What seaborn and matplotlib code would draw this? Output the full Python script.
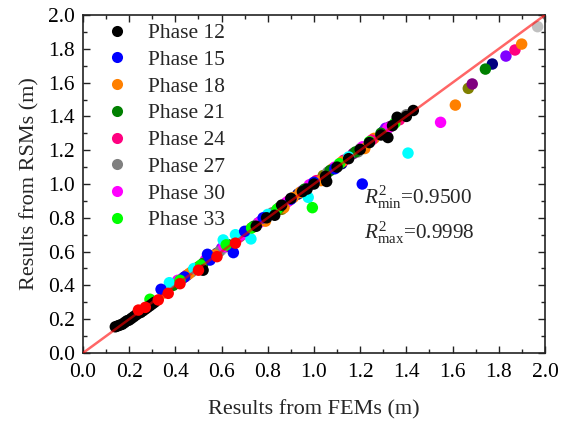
import matplotlib
matplotlib.use("Agg")
import matplotlib.pyplot as plt
from matplotlib.lines import Line2D
from matplotlib.ticker import MultipleLocator
import seaborn as sns
import pandas as pd

# ---- data: FEM results (x) vs RSM predictions (y), one list pair per phase ----
phase12_fem = [0.14, 0.15, 0.16, 0.17, 0.18, 0.19, 0.20, 0.21, 0.22, 0.23, 0.24, 0.25, 0.26,
               0.27, 0.28, 0.29, 0.30, 0.31, 0.52, 0.75, 0.795, 0.83, 0.86, 0.90, 0.95, 0.97,
               1.00, 1.05, 1.055, 1.10, 1.15, 1.20, 1.24, 1.29, 1.32, 1.34, 1.36, 1.40, 1.43]
phase12_rsm = [0.155, 0.16, 0.165, 0.17, 0.18, 0.19, 0.195, 0.205, 0.215, 0.225, 0.235, 0.24, 0.25,
               0.26, 0.27, 0.28, 0.29, 0.30, 0.49, 0.75, 0.80, 0.815, 0.875, 0.915, 0.955, 0.97,
               1.00, 1.045, 1.015, 1.10, 1.15, 1.205, 1.245, 1.29, 1.275, 1.345, 1.395, 1.40, 1.435]

phase13_fem = [0.24, 0.27, 0.326, 0.369, 0.42, 0.50, 0.58, 0.66]
phase13_rsm = [0.254, 0.27, 0.314, 0.353, 0.41, 0.49, 0.57, 0.65]

phase14_fem = [0.374, 0.48, 0.607, 0.66, 0.727, 0.80, 0.975, 1.15, 1.407]
phase14_rsm = [0.416, 0.50, 0.669, 0.70, 0.675, 0.82, 0.921, 1.16, 1.183]

phase15_fem = [0.338, 0.44, 0.539, 0.55, 0.651, 0.70, 0.78, 0.90, 1.00, 1.09, 1.209]
phase15_rsm = [0.377, 0.45, 0.584, 0.55, 0.594, 0.72, 0.80, 0.91, 1.01, 1.09, 1.000]

phase16_fem = [0.40, 0.58, 0.76, 0.93, 1.12, 1.30, 1.772]
phase16_rsm = [0.41, 0.59, 0.77, 0.94, 1.12, 1.31, 1.710]

phase17_fem = [0.45, 0.62, 0.81, 0.99, 1.17, 1.33, 1.685]
phase17_rsm = [0.46, 0.63, 0.82, 1.00, 1.18, 1.34, 1.592]

phase18_fem = [0.35, 0.46, 0.57, 0.64, 0.71, 0.79, 0.87, 0.94, 1.03, 1.12, 1.22, 1.899]
phase18_rsm = [0.355, 0.47, 0.58, 0.63, 0.72, 0.78, 0.86, 0.95, 1.02, 1.13, 1.21, 1.828]

phase19_fem = [0.50, 0.68, 0.86, 1.04, 1.21, 1.668]
phase19_rsm = [0.51, 0.69, 0.85, 1.05, 1.21, 1.566]

phase20_fem = [0.43, 0.60, 0.77, 0.95, 1.13, 1.31, 1.831]
phase20_rsm = [0.44, 0.62, 0.78, 0.96, 1.14, 1.33, 1.757]

phase21_fem = [0.39, 0.52, 0.63, 0.74, 0.85, 0.96, 1.07, 1.18, 1.29, 1.742]
phase21_rsm = [0.40, 0.53, 0.64, 0.75, 0.86, 0.97, 1.08, 1.19, 1.30, 1.680]

phase22_fem = [0.56, 0.73, 0.91, 1.08, 1.26, 1.612]
phase22_rsm = [0.57, 0.74, 0.92, 1.09, 1.27, 1.467]

phase24_fem = [0.44, 0.56, 0.67, 0.78, 0.89, 1.01, 1.13, 1.25, 1.37, 1.870]
phase24_rsm = [0.45, 0.57, 0.68, 0.79, 0.90, 1.02, 1.14, 1.26, 1.38, 1.793]

phase27_fem = [0.47, 0.59, 0.70, 0.82, 0.94, 1.06, 1.19, 1.31, 1.40, 2.01]
phase27_rsm = [0.48, 0.60, 0.71, 0.83, 0.95, 1.07, 1.19, 1.31, 1.41, 2.00]

phase30_fem = [0.41, 0.53, 0.61, 0.69, 0.76, 0.88, 0.98, 1.09, 1.21, 1.32, 1.548]
phase30_rsm = [0.43, 0.55, 0.63, 0.70, 0.77, 0.89, 0.995, 1.10, 1.22, 1.33, 1.365]

phase33_fem = [0.29, 0.42, 0.51, 0.62, 0.73, 0.84, 0.993, 1.11, 1.24, 1.35]
phase33_rsm = [0.318, 0.43, 0.52, 0.64, 0.74, 0.85, 0.860, 1.12, 1.25, 1.36]

phase34_fem = [0.60, 0.90, 1.20, 1.968]
phase34_rsm = [0.61, 0.91, 1.21, 1.931]

legend_phases = ["Phase 12", "Phase 15", "Phase 18", "Phase 21",
                 "Phase 24", "Phase 27", "Phase 30", "Phase 33"]
r2_min = 0.9500
r2_max = 0.9998

# drawing order (later rows end up on top)
series = [
    ("Phase 34", phase34_fem, phase34_rsm, "#c0c0c0"),
    ("Phase 19", phase19_fem, phase19_rsm, "#808000"),
    ("Phase 16", phase16_fem, phase16_rsm, "#000080"),
    ("Phase 17", phase17_fem, phase17_rsm, "#800080"),
    ("Phase 20", phase20_fem, phase20_rsm, "#8000ff"),
    ("Phase 22", phase22_fem, phase22_rsm, "#ff8000"),
    ("Phase 27", phase27_fem, phase27_rsm, "#808080"),
    ("Phase 24", phase24_fem, phase24_rsm, "#ff0080"),
    ("Phase 30", phase30_fem, phase30_rsm, "#ff00ff"),
    ("Phase 18", phase18_fem, phase18_rsm, "#ff8000"),
    ("Phase 21", phase21_fem, phase21_rsm, "#008000"),
    ("Phase 14", phase14_fem, phase14_rsm, "#00ffff"),
    ("Phase 15", phase15_fem, phase15_rsm, "#0000ff"),
    ("Phase 33", phase33_fem, phase33_rsm, "#00ff00"),
    ("Phase 12", phase12_fem, phase12_rsm, "#000000"),
    ("Phase 13", phase13_fem, phase13_rsm, "#ff0000"),
]

frames = [pd.DataFrame({"FEM": fx, "RSM": ry, "phase": name}) for name, fx, ry, _ in series]
df = pd.concat(frames, ignore_index=True)
palette = {name: col for name, _, _, col in series}

# ---- style ----
sns.set_theme(style="ticks")
plt.rcParams["font.family"] = ["Liberation Serif", "DejaVu Serif"]
plt.rcParams["mathtext.fontset"] = "custom"
plt.rcParams["mathtext.rm"] = "Liberation Serif"
plt.rcParams["mathtext.it"] = "Liberation Serif:italic"

fig = plt.figure(figsize=(5.75, 4.23), dpi=100)
ax = fig.add_axes([0.1443, 0.1655, 0.8035, 0.799])

sns.scatterplot(data=df, x="FEM", y="RSM", hue="phase", palette=palette,
                s=68, linewidth=0, legend=False, ax=ax, zorder=2)

# 1:1 reference line
ax.plot([0, 2], [0, 2], color="#ff0000", alpha=0.6, lw=1.8, zorder=3)

ax.set_xlim(0, 2.0)
ax.set_ylim(0, 2.0)
ax.xaxis.set_major_locator(MultipleLocator(0.2))
ax.yaxis.set_major_locator(MultipleLocator(0.2))
ax.xaxis.set_minor_locator(MultipleLocator(0.1))
ax.yaxis.set_minor_locator(MultipleLocator(0.1))
ax.xaxis.set_major_formatter(plt.FormatStrFormatter("%.1f"))
ax.yaxis.set_major_formatter(plt.FormatStrFormatter("%.1f"))
ax.tick_params(which="both", direction="in", top=True, right=True,
               labelsize=15.5, colors="#222222", labelcolor="black", width=1)
ax.tick_params(which="major", length=5.3)
ax.tick_params(which="minor", length=3)
ax.tick_params(axis="x", which="major", pad=7)
ax.tick_params(axis="y", which="major", pad=6)
for sp in ax.spines.values():
    sp.set_linewidth(1.2)
    sp.set_color("#222222")

ax.set_xlabel("Results from FEMs (m)", fontsize=16, labelpad=13)
ax.set_ylabel("Results from RSMs (m)", fontsize=16, labelpad=6)

handles = [Line2D([], [], ls="none", marker="o", markersize=8,
                  markerfacecolor=palette[p], markeredgewidth=0) for p in legend_phases]
ax.legend(handles, legend_phases, loc="upper left", frameon=False, fontsize=15.5,
          handlelength=1.0, handletextpad=0.9, labelspacing=0.31, borderaxespad=0.1,
          bbox_to_anchor=(0.028, 1.008))

ax.text(1.216, 0.882, rf"$R^2_{{\mathrm{{min}}}}$={r2_min:.4f}", fontsize=15.3, va="baseline")
ax.text(1.216, 0.675, rf"$R^2_{{\mathrm{{max}}}}$={r2_max:.4f}", fontsize=15.3, va="baseline")

fig.savefig("out.png", dpi=100)
